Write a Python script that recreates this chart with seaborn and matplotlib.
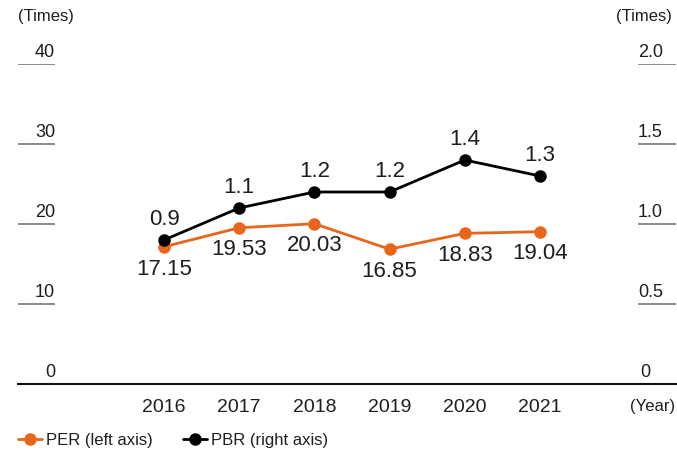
import matplotlib
matplotlib.use("Agg")
import matplotlib.pyplot as plt
import matplotlib.transforms as mtransforms
import seaborn as sns
import pandas as pd

years = ["2016", "2017", "2018", "2019", "2020", "2021"]
per = [17.15, 19.53, 20.03, 16.85, 18.83, 19.04]
pbr = [0.9, 1.1, 1.2, 1.2, 1.4, 1.3]
left_ticks = [0, 10, 20, 30, 40]
right_ticks = [0, 0.5, 1.0, 1.5, 2.0]
right_tick_labels = ["0", "0.5", "1.0", "1.5", "2.0"]

ORANGE = "#E8661C"
GRAY = "#777777"
TEXT = "#1e1e1e"

sns.set_theme(style="white")
plt.rcParams["font.family"] = ["Liberation Sans", "DejaVu Sans"]

W, H = 677, 455
fig = plt.figure(figsize=(W / 100, H / 100), dpi=100)
# axes spans x = 18..677 px, y = 384 (value 0) .. 64 (top value)
ax = fig.add_axes([18 / W, (H - 384) / H, (W - 18) / W, 320 / H])
ax2 = ax.twinx()

df = pd.DataFrame({"idx": range(len(years)), "PER": per, "PBR": pbr})

sns.lineplot(data=df, x="idx", y="PER", ax=ax, color=ORANGE, lw=2,
             marker="o", markersize=9, markeredgewidth=0, clip_on=False)
sns.lineplot(data=df, x="idx", y="PBR", ax=ax2, color="black", lw=2,
             marker="o", markersize=9, markeredgewidth=0, clip_on=False)

# x scale: index 0 at x=164 px, spacing ~75.2 px
px = 75.2
ax.set_xlim((18 - 164) / px, (677 - 164) / px)
ax.set_ylim(0, 40)
ax2.set_ylim(0, 2.0)

for a in (ax, ax2):
    for s in a.spines.values():
        s.set_visible(False)
    a.set_ylabel("")
    a.set_xlabel("")
    a.set_yticks([])
ax.spines["bottom"].set_visible(True)
ax.spines["bottom"].set_color("#111111")
ax.spines["bottom"].set_linewidth(1.5)

ax.set_xticks(range(len(years)))
ax.set_xticklabels(years, fontsize=14, color=TEXT)
ax.tick_params(axis="x", length=0, pad=11)

fs = 13
# left axis: labels over short gray rules
for v in left_ticks:
    if v != 0:
        ax.hlines(v, 0, (55 - 18) / 659, color=GRAY, lw=1.2,
                  transform=ax.get_yaxis_transform())
    tr = mtransforms.offset_copy(ax.get_yaxis_transform(), fig=fig, y=2, units="points")
    ax.text((55 - 18) / 659, v, str(v), ha="right", va="bottom", fontsize=fs,
            color=TEXT, transform=tr)

# right axis
for v, lab in zip(right_ticks, right_tick_labels):
    if v != 0:
        ax2.hlines(v, (638 - 18) / 659, (676 - 18) / 659, color=GRAY, lw=1.2,
                   transform=ax2.get_yaxis_transform())
    tr = mtransforms.offset_copy(ax2.get_yaxis_transform(), fig=fig, y=2, units="points")
    xpos = 640 if v == 0 else 638
    ax2.text((xpos - 18) / 659, v, lab, ha="left", va="bottom", fontsize=fs,
             color=TEXT, transform=tr)

fig.text(18 / W, 1 - 17 / H, "(Times)", ha="left", va="center", fontsize=12, color=TEXT)
fig.text(672 / W, 1 - 17 / H, "(Times)", ha="right", va="center", fontsize=12, color=TEXT)
ax.text((675 - 164) / px, 0, "(Year)", ha="right", va="top", fontsize=12,
        color=TEXT, transform=mtransforms.offset_copy(ax.transData, fig=fig, y=-11, units="points"))

# value labels
for i, v in enumerate(per):
    ax.annotate(f"{v:.2f}", (i, v), xytext=(0, -16), textcoords="offset points",
                ha="center", va="center", fontsize=16, color=TEXT)
for i, v in enumerate(pbr):
    ax2.annotate(f"{v:.1f}", (i, v), xytext=(0, 15), textcoords="offset points",
                 ha="center", va="center", fontsize=16, color=TEXT)

handles = [
    plt.Line2D([], [], color=ORANGE, lw=2, marker="o", markersize=9, markeredgewidth=0),
    plt.Line2D([], [], color="black", lw=2, marker="o", markersize=9, markeredgewidth=0),
]
fig.legend(handles, ["PER (left axis)", "PBR (right axis)"], loc="center left",
           bbox_to_anchor=(3 / W, 1 - 440 / H), ncol=2, frameon=False,
           fontsize=12, handlelength=1.45, handletextpad=0.25, columnspacing=1.8,
           labelcolor=TEXT)

fig.savefig("out.png", dpi=100)
